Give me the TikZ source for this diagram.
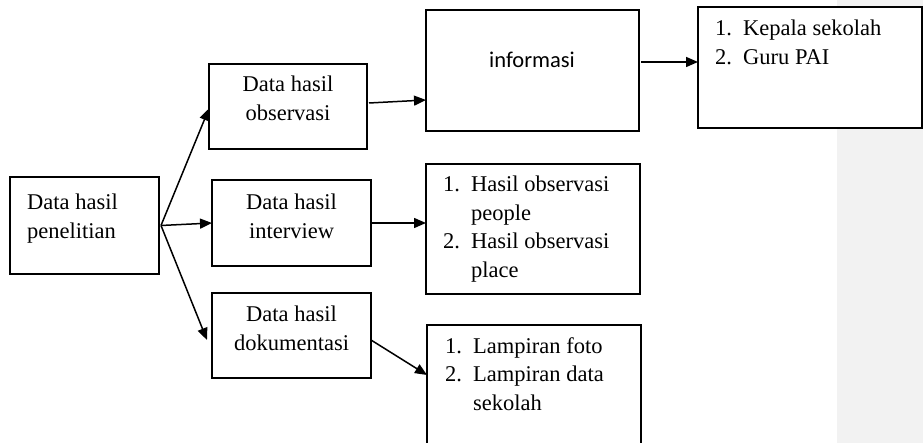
\documentclass[tikz,border=0pt]{standalone}
\usepackage{fontspec}
\setmainfont{Liberation Serif}
\newfontfamily\calibrifont{Carlito}
\usetikzlibrary{arrows.meta}
\definecolor{sidepanel}{HTML}{F2F2F2}
% fixed-width slot for list numbers
\newcommand\itm[1]{\makebox[28pt][l]{#1}}
\begin{document}
\begin{tikzpicture}[x=1pt,y=-1pt,
  box/.style={draw, line width=1.5pt, fill=white, inner sep=0pt, outer sep=0pt, anchor=north west},
  txt/.style={inner sep=0pt, anchor=base west, font=\fontsize{22.5}{28.5}\selectfont},
  ctxt/.style={txt, anchor=base},
  flow/.style={line width=1.5pt, -{Triangle[length=12pt,width=10pt]}}]
\useasboundingbox (0,0) rectangle (923,443);
\clip (0,0) rectangle (923,443);
% grey side panel
\fill[sidepanel] (837,0) rectangle (923,443);

% boxes
\node[box, minimum width=149pt, minimum height=97pt]  (pen)  at (10,177)  {};
\node[box, minimum width=158pt, minimum height=85pt]  (obs)  at (209,64)  {};
\node[box, minimum width=213pt, minimum height=121pt] (info) at (426,10)  {};
\node[box, minimum width=224pt, minimum height=121pt] (kep)  at (698,7)   {};
\node[box, minimum width=159pt, minimum height=86pt]  (int)  at (212,180) {};
\node[box, minimum width=214pt, minimum height=130pt] (has)  at (426,164) {};
\node[box, minimum width=159pt, minimum height=85pt]  (dok)  at (212,293) {};
\node[box, minimum width=214pt, minimum height=140pt] (lam)  at (427,325) {};

% texts
\node[txt]  (penT)  at (27,210)    {\begin{tabular}[t]{@{}l@{}}Data hasil\\penelitian\end{tabular}};
\node[ctxt] (obsT)  at (288,92)    {\begin{tabular}[t]{@{}c@{}}Data hasil\\observasi\end{tabular}};
\node[ctxt] (infoT) at (532,68)    {\calibrifont informasi};
\node[txt]  (kepT)  at (715,36)    {\begin{tabular}[t]{@{}l@{}}\itm{1.}Kepala sekolah\\\itm{2.}Guru PAI\end{tabular}};
\node[ctxt] (intT)  at (291.5,210) {\begin{tabular}[t]{@{}c@{}}Data hasil\\interview\end{tabular}};
\node[txt]  (hasT)  at (443,192)   {\begin{tabular}[t]{@{}l@{}}\itm{1.}Hasil observasi\\\itm{}people\\\itm{2.}Hasil observasi\\\itm{}place\end{tabular}};
\node[ctxt] (dokT)  at (291.5,322) {\begin{tabular}[t]{@{}c@{}}Data hasil\\dokumentasi\end{tabular}};
\node[txt]  (lamT)  at (445,353)   {\begin{tabular}[t]{@{}l@{}}\itm{1.}Lampiran foto\\\itm{2.}Lampiran data\\\itm{}sekolah\end{tabular}};

% connectors
\draw[flow] ([xshift=2pt]pen.east) -- ([yshift=-2pt]obs.west);
\draw[flow] ([xshift=2pt]pen.east) -- (int.west);
\draw[flow] ([xshift=2pt]pen.east) -- ([shift={(-5pt,-4.5pt)}]dok.west);
\draw[flow] ([shift={(2pt,3.5pt)}]obs.east) -- ([yshift=-29.5pt]info.west);
\draw[flow] ([shift={(2pt,8.5pt)}]info.east) -- ([yshift=8.5pt]info.east -| kep.west);
\draw[flow] (int.east) -- (int.east -| has.west);
\draw[flow] ([yshift=-4.5pt]dok.east) -- ([yshift=-50pt]lam.north west);
\end{tikzpicture}
\end{document}
